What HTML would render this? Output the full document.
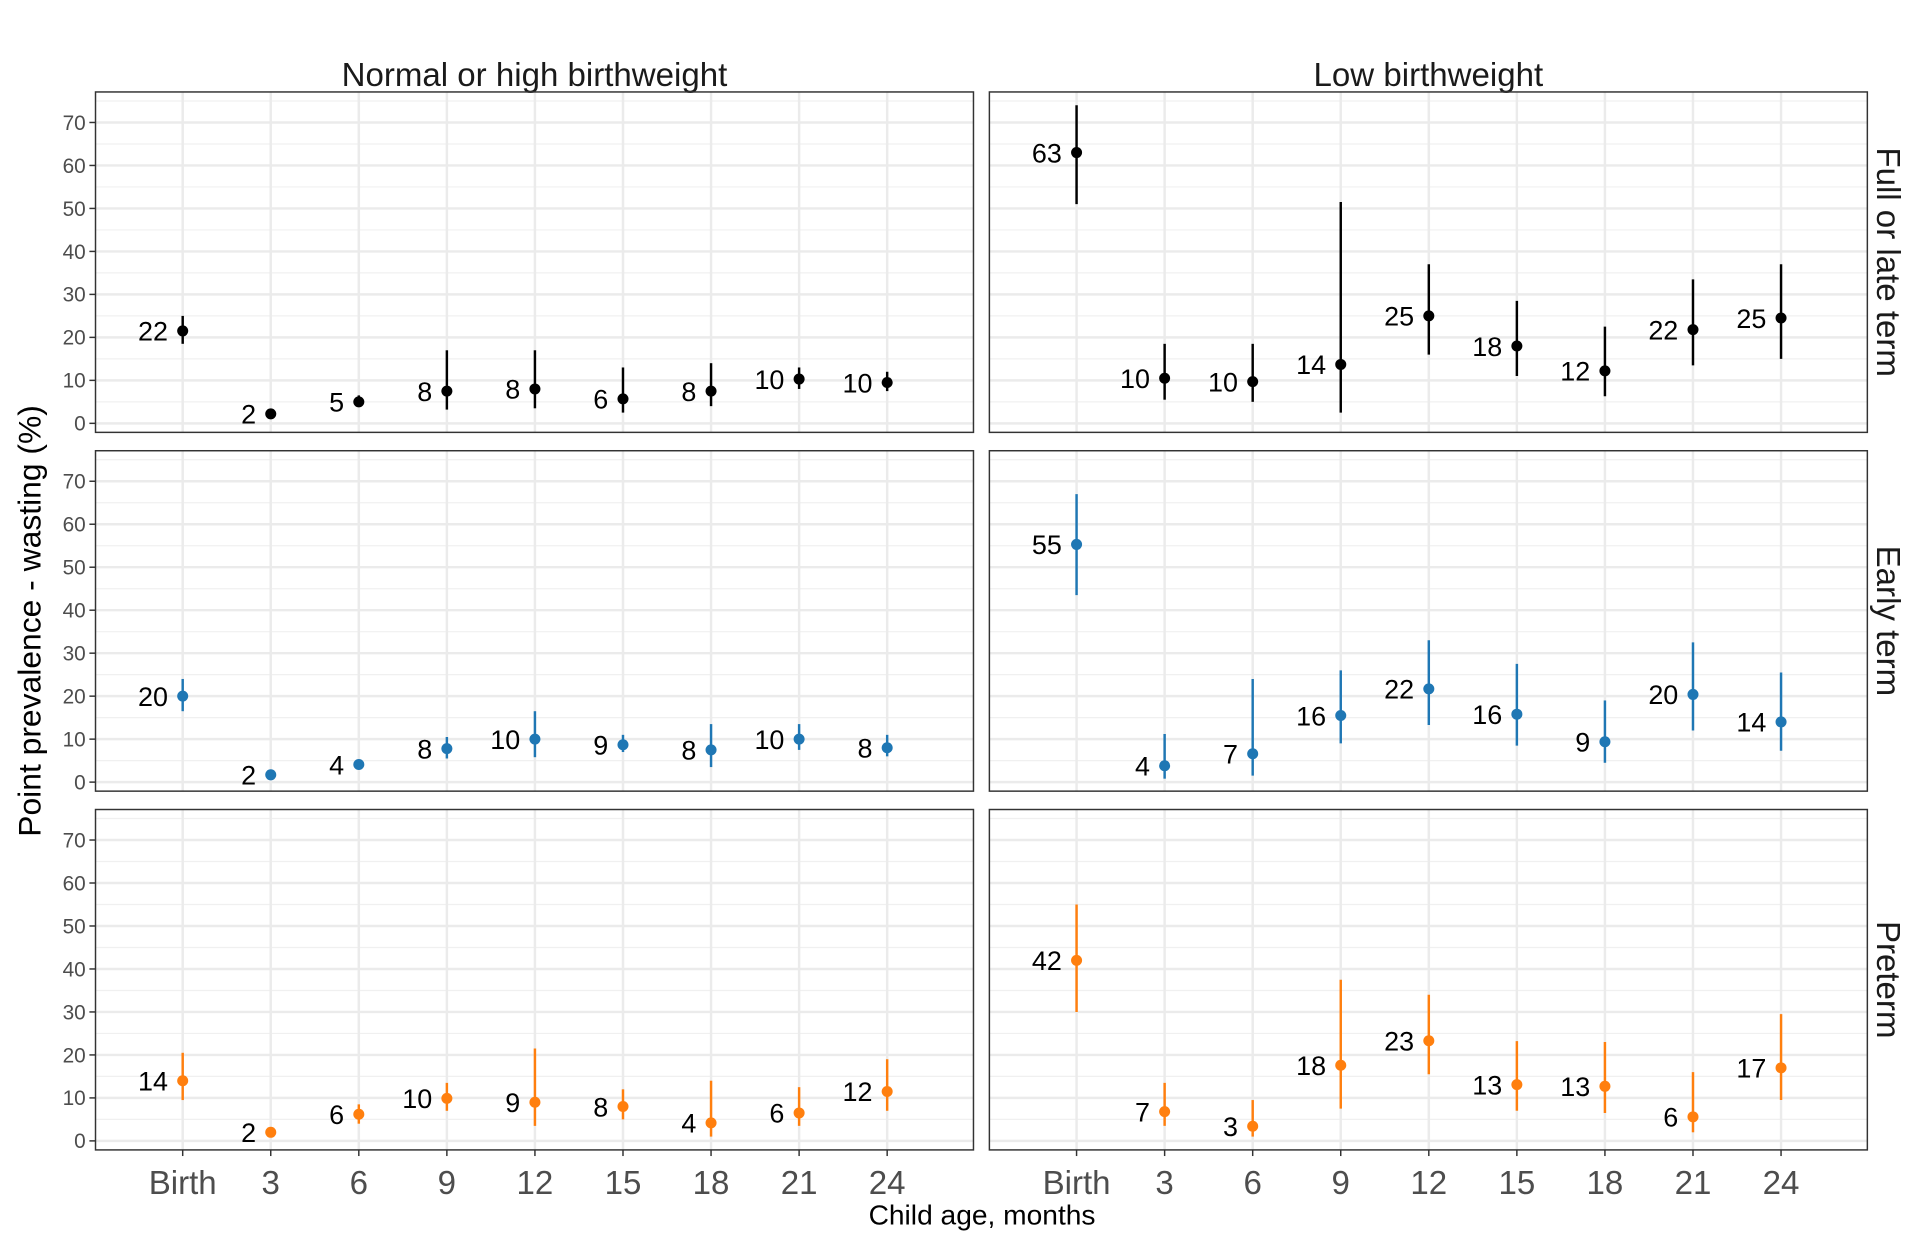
<!DOCTYPE html>
<html><head><meta charset="utf-8"><style>html,body{margin:0;padding:0;background:#fff}svg{display:block}</style></head>
<body>
<svg id="chart" width="1920" height="1248" viewBox="0 0 1568 1019" xmlns="http://www.w3.org/2000/svg" font-family="Liberation Sans, sans-serif"></svg>
<script>
const categories = ["Birth","3","6","9","12","15","18","21","24"];
const yTicks = [0,10,20,30,40,50,60,70];
const colNames = ["Normal or high birthweight","Low birthweight"];
const rowNames = ["Full or late term","Early term","Preterm"];
const rowColors = ["#000000","#1f77b4","#ff7f0e"];
// row 1
const r1lVal = [21.5,2.2,5,7.5,8,5.7,7.5,10.3,9.5];
const r1lLo  = [18.5,1.8,4,3.2,3.5,2.5,4,8,7.5];
const r1lHi  = [25,2.6,6.5,17,17,13,14,13,12];
const r1lLab = ["22","2","5","8","8","6","8","10","10"];
const r1rVal = [63,10.5,9.7,13.7,25,18,12.2,21.8,24.5];
const r1rLo  = [51,5.5,5,2.5,16,11,6.3,13.5,15];
const r1rHi  = [74,18.5,18.5,51.5,37,28.5,22.5,33.5,37];
const r1rLab = ["63","10","10","14","25","18","12","22","25"];
// row 2
const r2lVal = [20,1.7,4.1,7.8,10,8.7,7.5,10,8];
const r2lLo  = [16.5,1,3.3,5.5,5.8,7,3.5,7.5,6];
const r2lHi  = [24,2.5,5,10.5,16.5,11,13.5,13.5,11];
const r2lLab = ["20","2","4","8","10","9","8","10","8"];
const r2rVal = [55.3,3.8,6.6,15.5,21.7,15.8,9.4,20.4,14];
const r2rLo  = [43.5,0.8,1.5,9,13.3,8.5,4.5,12,7.3];
const r2rHi  = [67,11.2,24,26,33,27.5,19,32.5,25.5];
const r2rLab = ["55","4","7","16","22","16","9","20","14"];
// row 3
const r3lVal = [14,2,6.2,9.9,9,8,4.2,6.5,11.5];
const r3lLo  = [9.5,1,4,7,3.5,5,1,3.5,7];
const r3lHi  = [20.5,3,8.5,13.5,21.5,12,14,12.5,19];
const r3lLab = ["14","2","6","10","9","8","4","6","12"];
const r3rVal = [42,6.8,3.4,17.6,23.3,13.1,12.7,5.6,17];
const r3rLo  = [30,3.5,1,7.5,15.5,7,6.5,2,9.5];
const r3rHi  = [55,13.5,9.5,37.5,34,23.2,23,16,29.5];
const r3rLab = ["42","7","3","18","23","13","13","6","17"];

const panels = [
 [[r1lVal,r1lLo,r1lHi,r1lLab],[r1rVal,r1rLo,r1rHi,r1rLab]],
 [[r2lVal,r2lLo,r2lHi,r2lLab],[r2rVal,r2rLo,r2rHi,r2rLab]],
 [[r3lVal,r3lLo,r3lHi,r3lLab],[r3rVal,r3rLo,r3rHi,r3rLab]]
];
const svg = document.getElementById('chart');
const NS = "http://www.w3.org/2000/svg";
function mk(tag, attrs, parent){const e=document.createElementNS(NS,tag);for(const k in attrs)e.setAttribute(k,attrs[k]);(parent||svg).appendChild(e);return e;}
const colX = [78,808], pw = 717;
const rowY = [75,368,661], ph = 278;
const yMin=-2.1, yMax=77.1, xMin=-0.99, xMax=8.98;
function sx(c,i){return colX[c]+(i-xMin)/(xMax-xMin)*pw;}
function sy(r,v){return rowY[r]+ph-(v-yMin)/(yMax-yMin)*ph;}

for(let c=0;c<2;c++){
  const t=mk('text',{x:colX[c]+pw/2,y:70,'text-anchor':'middle','font-size':27,fill:'#1a1a1a'});
  
  
  t.textContent=colNames[c];
}
for(let r=0;r<3;r++){
  const cy=rowY[r]+ph/2, cx=1533;
  const t=mk('text',{x:cx,y:cy,'text-anchor':'middle','font-size':27,fill:'#1a1a1a',transform:`rotate(90 ${cx} ${cy})`});
  
  
  t.textContent=rowNames[r];
}
for(let r=0;r<3;r++){
  for(let c=0;c<2;c++){
    const g=mk('g',{});
    
    
    for(let v=5;v<=75;v+=10){const y=sy(r,v);mk('line',{x1:colX[c],x2:colX[c]+pw,y1:y,y2:y,stroke:'#f0f0f0','stroke-width':1},g);}
    for(const v of yTicks){const y=sy(r,v);mk('line',{x1:colX[c],x2:colX[c]+pw,y1:y,y2:y,stroke:'#ebebeb','stroke-width':2},g);}
    categories.forEach((_,i)=>{const x=sx(c,i);mk('line',{x1:x,x2:x,y1:rowY[r],y2:rowY[r]+ph,stroke:'#ebebeb','stroke-width':2},g);});
    const [vals,lo,hi,lab]=panels[r][c];
    vals.forEach((v,i)=>{
      const x=sx(c,i);
      const eb=mk('line',{x1:x,x2:x,y1:sy(r,lo[i]),y2:sy(r,hi[i]),stroke:rowColors[r],'stroke-width':2},g);
      
      
      const p=mk('circle',{cx:x,cy:sy(r,v),r:4.5,fill:rowColors[r]},g);
      
      
      const t=mk('text',{x:x-12,y:sy(r,v)+8,'text-anchor':'end','font-size':22,fill:'#000'},g);
      
      
      t.textContent=lab[i];
    });
    mk('rect',{x:colX[c],y:rowY[r],width:pw,height:ph,fill:'none',stroke:'#333333','stroke-width':1.2},g);
  }
  for(const v of yTicks){
    const y=sy(r,v);
    mk('line',{x1:73,x2:78,y1:y,y2:y,stroke:'#333','stroke-width':1.2});
    const t=mk('text',{x:70,y:y+6,'text-anchor':'end','font-size':17,fill:'#4d4d4d'});
    
    
    t.textContent=v;
  }
}
for(let c=0;c<2;c++){
  categories.forEach((lab,i)=>{
    const x=sx(c,i), yb=rowY[2]+ph;
    mk('line',{x1:x,x2:x,y1:yb,y2:yb+5,stroke:'#333','stroke-width':1.2});
    const t=mk('text',{x:x,y:975,'text-anchor':'middle','font-size':27,fill:'#4d4d4d'});
    
    
    t.textContent=lab;
  });
}
const xt=mk('text',{x:802,y:1000,'text-anchor':'middle','font-size':23,fill:'#000'});


xt.textContent='Child age, months';
const yt=mk('text',{x:33,y:507,'text-anchor':'middle','font-size':26,fill:'#000',transform:'rotate(-90 33 507)'});


yt.textContent='Point prevalence - wasting (%)';
</script>
</body></html>
